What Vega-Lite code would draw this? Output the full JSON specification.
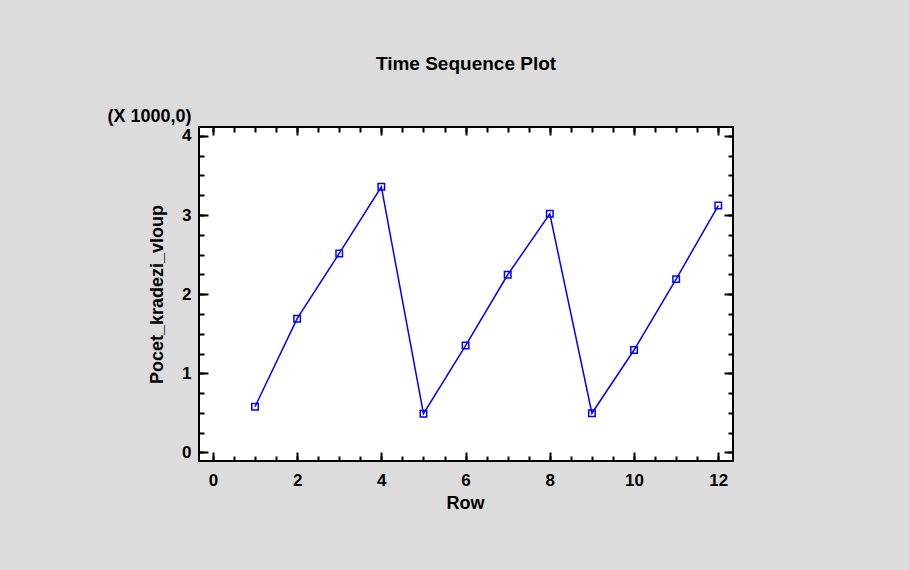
{
  "$schema": "https://vega.github.io/schema/vega-lite/v6.json",
  "width": 534,
  "height": 334,
  "autosize": {"type": "none"},
  "padding": {"left": 199, "top": 127, "right": 176, "bottom": 109},
  "background": "#dcdcdc",
  "title": {"text": "Time Sequence Plot", "font": "Liberation Sans", "fontSize": 19, "fontWeight": "bold", "color": "black", "anchor": "middle", "frame": "group", "offset": 33},
  "config": {
    "view": {"fill": "white", "stroke": "black", "strokeWidth": 2},
    "axis": {
      "grid": false, "domain": false, "tickColor": "black", "tickWidth": 2,
      "labelFont": "Liberation Sans", "labelFontWeight": "bold", "labelFontSize": 17, "labelColor": "black",
      "titleFont": "Liberation Sans", "titleFontWeight": "bold", "titleFontSize": 18, "titleColor": "black"
    }
  },
  "data": {"values": [
    {"Row": 1, "Pocet_kradezi_vloup": 578},
    {"Row": 2, "Pocet_kradezi_vloup": 1690},
    {"Row": 3, "Pocet_kradezi_vloup": 2515},
    {"Row": 4, "Pocet_kradezi_vloup": 3356},
    {"Row": 5, "Pocet_kradezi_vloup": 490},
    {"Row": 6, "Pocet_kradezi_vloup": 1350},
    {"Row": 7, "Pocet_kradezi_vloup": 2245},
    {"Row": 8, "Pocet_kradezi_vloup": 3015},
    {"Row": 9, "Pocet_kradezi_vloup": 495},
    {"Row": 10, "Pocet_kradezi_vloup": 1294},
    {"Row": 11, "Pocet_kradezi_vloup": 2190},
    {"Row": 12, "Pocet_kradezi_vloup": 3120}
  ]},
  "resolve": {"axis": {"x": "independent", "y": "independent"}},
  "layer": [
    {
      "mark": {"type": "line", "color": "#0000ff", "strokeWidth": 1.5},
      "encoding": {
        "x": {"field": "Row", "type": "quantitative",
          "scale": {"domain": [-0.33, 12.35], "nice": false, "zero": false},
          "axis": {"orient": "bottom", "values": [0, 2, 4, 6, 8, 10, 12], "tickSize": -9, "labelPadding": 33, "labelBaseline": "alphabetic", "title": "Row", "titleBaseline": "alphabetic", "titleX": 266, "titleY": 47}},
        "y": {"field": "Pocet_kradezi_vloup", "type": "quantitative",
          "scale": {"domain": [-108, 4112], "nice": false, "zero": false},
          "axis": {"orient": "left", "values": [0, 1000, 2000, 3000, 4000], "labelExpr": "datum.value / 1000", "tickSize": -9, "labelPadding": 17, "title": "Pocet_kradezi_vloup", "titleX": -33, "titleY": 167}}
      }
    },
    {
      "mark": {"type": "point", "shape": "square", "filled": false, "size": 42, "strokeWidth": 1.5, "color": "#0000ff", "opacity": 1},
      "encoding": {
        "x": {"field": "Row", "type": "quantitative",
          "scale": {"domain": [-0.33, 12.35], "nice": false, "zero": false},
          "axis": {"orient": "bottom", "values": [0, 0.5, 1, 1.5, 2, 2.5, 3, 3.5, 4, 4.5, 5, 5.5, 6, 6.5, 7, 7.5, 8, 8.5, 9, 9.5, 10, 10.5, 11, 11.5, 12], "tickSize": -5, "labels": false, "title": null}},
        "y": {"field": "Pocet_kradezi_vloup", "type": "quantitative",
          "scale": {"domain": [-108, 4112], "nice": false, "zero": false},
          "axis": {"orient": "left", "values": [0, 250, 500, 750, 1000, 1250, 1500, 1750, 2000, 2250, 2500, 2750, 3000, 3250, 3500, 3750, 4000], "tickSize": -5, "labels": false, "title": "(X 1000,0)", "titleAngle": 0, "titleAlign": "right", "titleBaseline": "alphabetic", "titleX": -8, "titleY": -6}}
      }
    },
    {
      "mark": {"type": "point", "opacity": 0},
      "encoding": {
        "x": {"field": "Row", "type": "quantitative",
          "scale": {"domain": [-0.33, 12.35], "nice": false, "zero": false},
          "axis": {"orient": "top", "values": [0, 2, 4, 6, 8, 10, 12], "tickSize": -8, "labels": false, "title": null}},
        "y": {"field": "Pocet_kradezi_vloup", "type": "quantitative",
          "scale": {"domain": [-108, 4112], "nice": false, "zero": false},
          "axis": {"orient": "right", "values": [0, 1000, 2000, 3000, 4000], "tickSize": -9, "labels": false, "title": null}}
      }
    },
    {
      "mark": {"type": "point", "opacity": 0},
      "encoding": {
        "x": {"field": "Row", "type": "quantitative",
          "scale": {"domain": [-0.33, 12.35], "nice": false, "zero": false},
          "axis": {"orient": "top", "values": [0, 0.5, 1, 1.5, 2, 2.5, 3, 3.5, 4, 4.5, 5, 5.5, 6, 6.5, 7, 7.5, 8, 8.5, 9, 9.5, 10, 10.5, 11, 11.5, 12], "tickSize": -5, "labels": false, "title": null}},
        "y": {"field": "Pocet_kradezi_vloup", "type": "quantitative",
          "scale": {"domain": [-108, 4112], "nice": false, "zero": false},
          "axis": {"orient": "right", "values": [0, 250, 500, 750, 1000, 1250, 1500, 1750, 2000, 2250, 2500, 2750, 3000, 3250, 3500, 3750, 4000], "tickSize": -5, "labels": false, "title": null}}
      }
    }
  ]
}
